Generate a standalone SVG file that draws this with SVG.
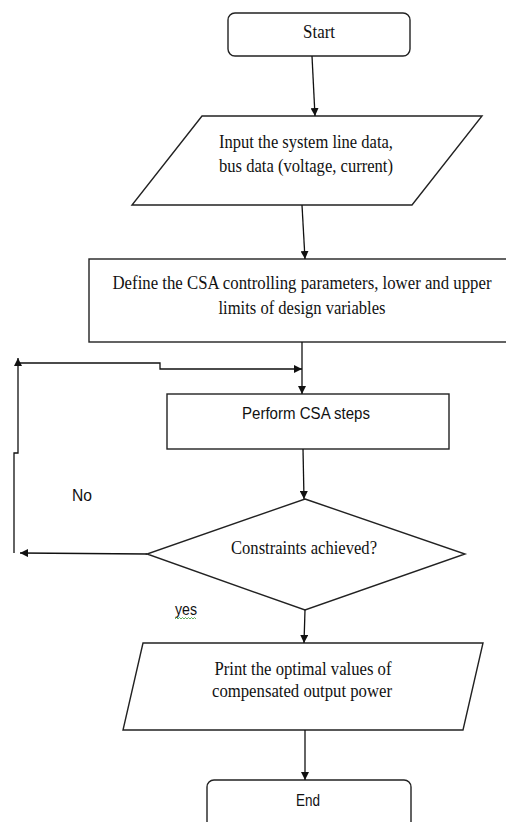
<svg xmlns="http://www.w3.org/2000/svg" width="506" height="822" viewBox="0 0 506 822">
<style>
.shape{fill:#fff;stroke:#222;stroke-width:1.4}
.line{fill:none;stroke:#111;stroke-width:1.3}
.serif{font-family:"Liberation Serif","Times New Roman",serif;font-size:18.5px;fill:#111}
.sans{font-family:"Liberation Sans",Arial,sans-serif;font-size:16px;fill:#111}
</style>
<defs>
<marker id="ah" viewBox="0 0 10 10" refX="10" refY="5" markerWidth="8" markerHeight="8" markerUnits="userSpaceOnUse" orient="auto">
<path d="M0,0 L10,5 L0,10 z" fill="#111"/>
</marker>
</defs>
<rect width="506" height="822" fill="#fff"/>
<g id="start">
<rect class="shape" x="228" y="13" width="182" height="43" rx="7"/>
<text class="serif" x="319" y="38" text-anchor="middle" textLength="32" lengthAdjust="spacingAndGlyphs">Start</text>
</g>
<g id="input">
<polygon class="shape" points="202,116 482,116 412,205 132,205"/>
<text class="serif" x="306" y="148" text-anchor="middle" textLength="174" lengthAdjust="spacingAndGlyphs">Input the system line data,</text>
<text class="serif" x="306" y="172" text-anchor="middle" textLength="174" lengthAdjust="spacingAndGlyphs">bus data (voltage, current)</text>
</g>
<g id="define">
<rect class="shape" x="89" y="259" width="425" height="83"/>
<text class="serif" x="302" y="289" text-anchor="middle" textLength="379" lengthAdjust="spacingAndGlyphs">Define the CSA controlling parameters, lower and upper</text>
<text class="serif" x="302" y="314" text-anchor="middle" textLength="167" lengthAdjust="spacingAndGlyphs">limits of design variables</text>
</g>
<g id="perform">
<rect class="shape" x="167" y="394" width="282" height="55"/>
<text class="sans" x="306" y="419" text-anchor="middle" textLength="128" lengthAdjust="spacingAndGlyphs">Perform CSA steps</text>
</g>
<g id="decision">
<polygon class="shape" points="305,499 465,554 305,610 147,554"/>
<text class="serif" x="304" y="554" text-anchor="middle" textLength="146" lengthAdjust="spacingAndGlyphs">Constraints achieved?</text>
</g>
<g id="print">
<polygon class="shape" points="143,643 483,643 463,730 123,730"/>
<text class="serif" x="303" y="675" text-anchor="middle" textLength="177" lengthAdjust="spacingAndGlyphs">Print the optimal values of</text>
<text class="serif" x="302" y="697" text-anchor="middle" textLength="180" lengthAdjust="spacingAndGlyphs">compensated output power</text>
</g>
<g id="end">
<rect class="shape" x="207" y="780" width="204" height="60" rx="7"/>
<text class="sans" x="308" y="806" text-anchor="middle" textLength="24" lengthAdjust="spacingAndGlyphs">End</text>
</g>
<g id="labels">
<text class="sans" x="72" y="501" textLength="20" lengthAdjust="spacingAndGlyphs">No</text>
<text class="sans" x="175" y="615" textLength="22" lengthAdjust="spacingAndGlyphs">yes</text>
<path d="M175,619 l1.5,-1.5 l1.5,1.5 l1.5,-1.5 l1.5,1.5 l1.5,-1.5 l1.5,1.5 l1.5,-1.5 l1.5,1.5 l1.5,-1.5 l1.5,1.5 l1.5,-1.5 l1.5,1.5 l1.5,-1.5 l1.5,1.5" fill="none" stroke="#3a9a3a" stroke-width="0.8"/>
</g>
<g id="connectors">
<path class="line" d="M312,56 L315,116" marker-end="url(#ah)"/>
<path class="line" d="M302,205 L305,259" marker-end="url(#ah)"/>
<path class="line" d="M302,342 L302,394" marker-end="url(#ah)"/>
<path class="line" d="M303,449 L304,499" marker-end="url(#ah)"/>
<path class="line" d="M305,610 L304,643" marker-end="url(#ah)"/>
<path class="line" d="M305,730 L305,780" marker-end="url(#ah)"/>
<path class="line" d="M147,554 L20,553" marker-end="url(#ah)"/>
<path class="line" d="M14,553 L14,453 L18,453 L18,358" marker-end="url(#ah)"/>
<path class="line" d="M18,363 L160,363 L160,369 L302,369" marker-end="url(#ah)"/>
</g>
</svg>
